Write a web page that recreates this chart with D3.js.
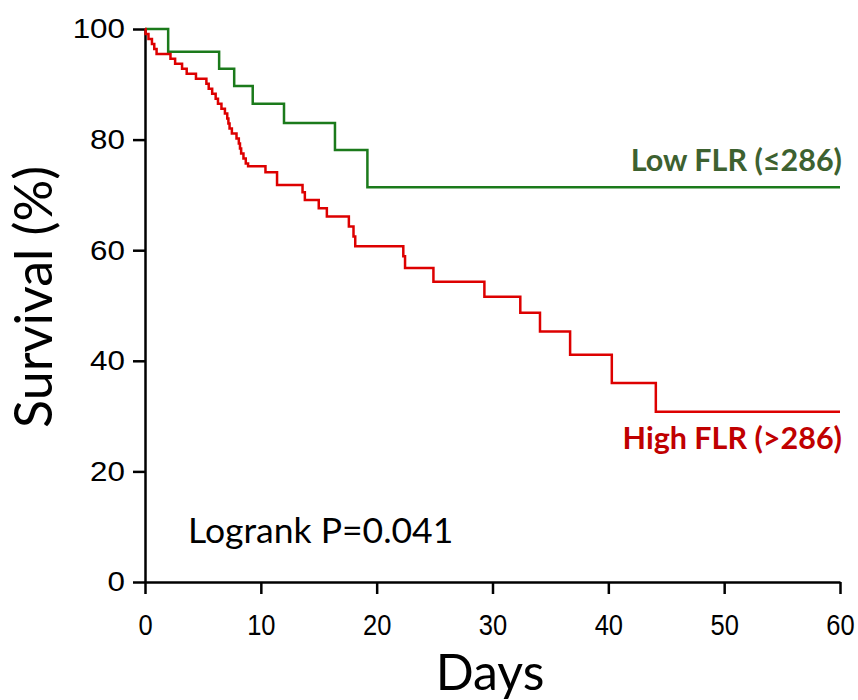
<!DOCTYPE html>
<html>
<head>
<meta charset="utf-8">
<script src="https://cdn.jsdelivr.net/npm/d3@7"></script>
<style>
  html, body { margin: 0; padding: 0; background: #fff; }
  svg { display: block; }
</style>
</head>
<body>
<svg id="chart" width="858" height="700"></svg>
<script>
// ---- data ----
const lowDays   = [0, 2.0, 6.4, 7.7, 9.3, 12.0, 16.4, 19.2, 60];
const lowSurv   = [100, 95.9, 92.8, 89.7, 86.5, 83.0, 78.1, 71.4, 71.4];

const highDays  = [0, 0.05, 0.3, 0.6, 0.8, 1.0, 2.2, 2.6, 3.2, 3.6, 4.4, 5.3, 5.5, 5.8, 6.1, 6.3, 6.6, 6.9, 7.1, 7.2, 7.3, 7.5, 7.9, 8.1, 8.2, 8.3, 8.5, 8.7, 8.9, 10.4, 11.4, 13.6, 13.8, 15.0, 15.7, 17.6, 18.0, 18.15, 22.3, 22.45, 24.9, 29.3, 32.4, 34.1, 36.7, 40.3, 44.1, 60];
const highSurv  = [100, 99.1, 98.2, 97.3, 96.4, 95.5, 94.6, 93.7, 92.8, 91.9, 91.0, 90.1, 89.2, 88.3, 87.4, 86.5, 85.6, 84.7, 83.8, 82.9, 82.0, 81.1, 80.2, 79.3, 78.4, 77.5, 76.6, 75.7, 75.2, 74.1, 71.8, 70.5, 69.1, 67.6, 66.1, 64.3, 62.5, 60.7, 58.9, 56.8, 54.3, 51.6, 48.7, 45.3, 41.1, 36.0, 30.8, 30.8];

const xTicks = [0, 10, 20, 30, 40, 50, 60];
const yTicks = [0, 20, 40, 60, 80, 100];

const lowLabel  = "Low FLR (\u2264286)";
const highLabel = "High FLR (>286)";
const pLabel    = "Logrank P=0.041";
const xTitle    = "Days";
const yTitle    = "Survival (%)";

// ---- drawing ----
const svg = d3.select("#chart");
const x = d3.scaleLinear().domain([0, 60]).range([145, 840]);
const y = d3.scaleLinear().domain([0, 100]).range([582, 29]);

const line = d3.line()
  .x(d => x(d[0]))
  .y(d => y(d[1]))
  .curve(d3.curveStepAfter);

const lowData  = lowDays.map((d, i) => [d, lowSurv[i]]);
const highData = highDays.map((d, i) => [d, highSurv[i]]);

// axes
const yAxis = svg.append("g")
  .attr("transform", `translate(${x(0)},0)`)
  .call(d3.axisLeft(y).tickValues(yTicks).tickSize(12).tickSizeOuter(0).tickPadding(8));
const xAxis = svg.append("g")
  .attr("transform", `translate(0,${y(0)})`)
  .call(d3.axisBottom(x).tickValues(xTicks).tickSize(12).tickSizeOuter(0).tickPadding(20));

[yAxis, xAxis].forEach(g => {
  g.select(".domain").attr("stroke", "#000").attr("stroke-width", 2.5);
  g.selectAll(".tick line").attr("stroke", "#000").attr("stroke-width", 2.5);
  g.selectAll(".tick text")
    .attr("fill", "#000")
    .attr("font-family", "'Liberation Sans', Arial, sans-serif");
});
// y labels: slightly wide, x labels: slightly condensed (as in the reference)
yAxis.selectAll(".tick text")
  .attr("font-size", 28)
  .attr("x", null)
  .attr("transform", "translate(-20,0) scale(1.12,1)");
xAxis.selectAll(".tick text").attr("font-size", 30)
  .attr("transform", "scale(0.85,1)");

// curves
svg.append("path").datum(lowData)
  .attr("d", line).attr("fill", "none")
  .attr("stroke", "#1b7a1b").attr("stroke-width", 2.5);
svg.append("path").datum(highData)
  .attr("d", line).attr("fill", "none")
  .attr("stroke", "#dd0000").attr("stroke-width", 2.5);

// labels
svg.append("text")
  .attr("x", 842).attr("y", 171)
  .attr("text-anchor", "end")
  .attr("font-family", "Lato, 'Open Sans', sans-serif")
  .attr("font-weight", "bold")
  .attr("font-size", 30.5)
  .attr("fill", "#3d6130")
  .text(lowLabel);

svg.append("text")
  .attr("x", 842).attr("y", 449)
  .attr("text-anchor", "end")
  .attr("font-family", "Lato, 'Open Sans', sans-serif")
  .attr("font-weight", "bold")
  .attr("font-size", 30.5)
  .attr("fill", "#c00000")
  .text(highLabel);

svg.append("text")
  .attr("x", 188).attr("y", 543)
  .attr("font-family", "Lato, 'Open Sans', sans-serif")
  .attr("font-size", 35.5)
  .attr("fill", "#000")
  .text(pLabel);

svg.append("text")
  .attr("x", 490).attr("y", 690)
  .attr("text-anchor", "middle")
  .attr("font-family", "Lato, 'Open Sans', sans-serif")
  .attr("font-size", 50)
  .attr("fill", "#000")
  .text(xTitle);

svg.append("text")
  .attr("transform", "translate(52,297) rotate(-90)")
  .attr("text-anchor", "middle")
  .attr("font-family", "Lato, 'Open Sans', sans-serif")
  .attr("font-size", 52)
  .attr("fill", "#000")
  .text(yTitle);
</script>
</body>
</html>
